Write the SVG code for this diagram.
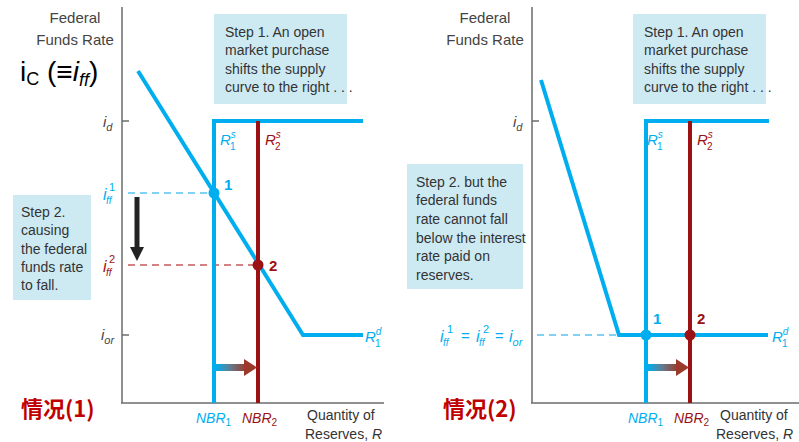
<svg xmlns="http://www.w3.org/2000/svg" width="799" height="442" viewBox="0 0 799 442">
<defs>
<linearGradient id="gArr" x1="0" y1="0" x2="1" y2="0">
<stop offset="0" stop-color="#00aeef"/>
<stop offset="0.45" stop-color="#5f7f93"/>
<stop offset="1" stop-color="#9b3a2a"/>
</linearGradient>
</defs>
<style>
text{font-family:"Liberation Sans",Arial,sans-serif;}
.ax{stroke:#6b6b6b;stroke-width:1.5;fill:none}
.blue{stroke:#00aeef;stroke-width:4;fill:none}
.red{stroke:#9b1114;stroke-width:4;fill:none}
.dashb{stroke:#58c4ee;stroke-width:1.5;stroke-dasharray:7,5;fill:none}
.dashr{stroke:#c45a5a;stroke-width:1.5;stroke-dasharray:7,5;fill:none}
.box{fill:#cdeaf3}
.t{font-size:14px;fill:#333}
.lbl{font-size:15px;fill:#444}
.it{font-style:italic}
.cb{fill:#00aeef}
.cr{fill:#9b1114}
.num{font-size:15px;font-weight:bold}
.case{font-size:22px;font-weight:bold;fill:#c00000;font-family:"Noto Sans CJK SC","Liberation Sans",sans-serif}
</style>

<!-- LEFT PANEL -->
<g id="left-axes">
<line class="ax" x1="122" y1="7" x2="122" y2="403"/>
<line class="ax" x1="121" y1="403" x2="384" y2="403"/>
<line class="ax" x1="122" y1="121" x2="129" y2="121"/>
<line class="ax" x1="122" y1="335" x2="129" y2="335"/>
<text class="lbl" text-anchor="middle" x="75" y="23">Federal</text>
<text class="lbl" text-anchor="middle" x="75" y="45">Funds Rate</text>
<text x="20" y="81" font-size="28" fill="#000" font-family="Calibri,'Liberation Sans',sans-serif">i<tspan font-size="18" dy="4">C</tspan><tspan dy="-4"> (≡</tspan><tspan font-style="italic">i</tspan><tspan font-style="italic" font-size="18" dy="5">ff</tspan><tspan dy="-5">)</tspan></text>
<text class="lbl it" x="103" y="127" fill="#444">i<tspan font-size="11" dy="4">d</tspan></text>
<text class="lbl it" x="101" y="340" fill="#444">i<tspan font-size="11" dy="4">or</tspan></text>
<text x="307" y="420" font-size="14" fill="#333">Quantity of</text>
<text x="305" y="439" font-size="14" fill="#333">Reserves, <tspan font-style="italic">R</tspan></text>
</g>
<g id="left-step1">
<rect class="box" x="214" y="14" width="133" height="90"/>
<text class="t" x="225" y="37">Step 1. An open</text>
<text class="t" x="225" y="55">market purchase</text>
<text class="t" x="225" y="74">shifts the supply</text>
<text class="t" x="225" y="92">curve to the right . . .</text>
</g>
<g id="left-step2">
<rect class="box" x="13" y="195" width="78" height="105"/>
<text class="t" x="21" y="217">Step 2.</text>
<text class="t" x="21" y="235">causing</text>
<text class="t" x="21" y="254">the federal</text>
<text class="t" x="21" y="272">funds rate</text>
<text class="t" x="21" y="290">to fall.</text>
</g>
<g id="left-connectors">
<line class="dashb" x1="128" y1="193" x2="212" y2="193"/>
<line class="dashr" x1="128" y1="265" x2="256" y2="265"/>
<polyline class="blue" points="138,71 303,335 363,335"/>
<polyline class="blue" points="214,403 214,121 363,121"/>
<line class="red" x1="258" y1="121" x2="258" y2="403"/>
<line x1="137" y1="197" x2="137" y2="248" stroke="#222" stroke-width="5"/>
<polygon points="130,247 144,247 137,261" fill="#222"/>
<rect x="216" y="364" width="30" height="7" fill="url(#gArr)"/>
<polygon points="244,359 257,367.5 244,376" fill="#9b3a2a"/>
</g>
<g id="left-labels">
<text class="it cb" x="103" y="200" font-size="16">i</text>
<text class="it cb" x="106" y="204" font-size="10">ff</text>
<text class="cb" x="109" y="191" font-size="11">1</text>
<text class="it cr" x="103" y="272" font-size="16">i</text>
<text class="it cr" x="106" y="276" font-size="10">ff</text>
<text class="cr" x="109" y="263" font-size="11">2</text>
<text class="it cb" x="220" y="145" font-size="15">R<tspan font-size="10" dy="-7">s</tspan></text>
<text class="cb" x="230" y="150" font-size="10">1</text>
<text class="it cr" x="265" y="145" font-size="15">R<tspan font-size="10" dy="-7">s</tspan></text>
<text class="cr" x="275" y="150" font-size="10">2</text>
<text class="it cb" x="365" y="342" font-size="15">R<tspan font-size="10" dy="-7">d</tspan></text>
<text class="cb" x="375" y="347" font-size="10">1</text>
<text class="it cb" x="196" y="423" font-size="14">NBR<tspan font-style="normal" font-size="10" dy="3">1</tspan></text>
<text class="it cr" x="242" y="423" font-size="14">NBR<tspan font-style="normal" font-size="10" dy="3">2</tspan></text>
</g>
<g id="left-point1">
<circle class="cb" cx="214" cy="193" r="5.5"/>
<text class="num cb" x="224" y="190">1</text>
</g>
<g id="left-point2">
<circle class="cr" cx="258" cy="265" r="5.5"/>
<text class="num cr" x="269" y="271">2</text>
</g>
<text class="case" x="21" y="417">情况(1)</text>

<!-- RIGHT PANEL -->
<g id="right-axes">
<line class="ax" x1="532" y1="7" x2="532" y2="403"/>
<line class="ax" x1="531" y1="403" x2="799" y2="403"/>
<line class="ax" x1="532" y1="121" x2="539" y2="121"/>
<text class="lbl" text-anchor="middle" x="485" y="23">Federal</text>
<text class="lbl" text-anchor="middle" x="485" y="45">Funds Rate</text>
<text class="lbl it" x="513" y="127" fill="#444">i<tspan font-size="11" dy="4">d</tspan></text>
<text x="720" y="420" font-size="14" fill="#333">Quantity of</text>
<text x="716" y="439" font-size="14" fill="#333">Reserves, <tspan font-style="italic">R</tspan></text>
</g>
<g id="right-step1">
<rect class="box" x="633" y="14" width="133" height="90"/>
<text class="t" x="644" y="37">Step 1. An open</text>
<text class="t" x="644" y="55">market purchase</text>
<text class="t" x="644" y="74">shifts the supply</text>
<text class="t" x="644" y="92">curve to the right . . .</text>
</g>
<g id="right-step2">
<rect class="box" x="407" y="164" width="116" height="125"/>
<text class="t" x="416" y="187">Step 2. but the</text>
<text class="t" x="416" y="205">federal funds</text>
<text class="t" x="416" y="224">rate cannot fall</text>
<text class="t" x="416" y="243">below the interest</text>
<text class="t" x="416" y="261">rate paid on</text>
<text class="t" x="416" y="280">reserves.</text>
</g>
<g id="right-connectors">
<line class="dashb" x1="537" y1="335" x2="619" y2="335"/>
<polyline class="blue" points="541,80 619,335 768,335"/>
<polyline class="blue" points="646,403 646,121 769,121"/>
<line class="red" x1="690" y1="121" x2="690" y2="403"/>
<rect x="648" y="364" width="30" height="7" fill="url(#gArr)"/>
<polygon points="676,359 689,367.5 676,376" fill="#9b3a2a"/>
</g>
<g id="right-labels">
<text class="it cb" x="440" y="342" font-size="16">i</text>
<text class="it cb" x="443" y="346" font-size="10">ff</text>
<text class="cb" x="447" y="333" font-size="11">1</text>
<text class="cb" x="461" y="341" font-size="15">=</text>
<text class="it cb" x="476" y="342" font-size="16">i</text>
<text class="it cb" x="479" y="346" font-size="10">ff</text>
<text class="cb" x="483" y="333" font-size="11">2</text>
<text class="cb" x="495" y="341" font-size="15">=</text>
<text class="it cb" x="509" y="342" font-size="16">i<tspan font-size="11" dy="4">or</tspan></text>
<text class="it cb" x="647" y="145" font-size="15">R<tspan font-size="10" dy="-7">s</tspan></text>
<text class="cb" x="657" y="150" font-size="10">1</text>
<text class="it cr" x="697" y="145" font-size="15">R<tspan font-size="10" dy="-7">s</tspan></text>
<text class="cr" x="707" y="150" font-size="10">2</text>
<text class="it cb" x="772" y="342" font-size="15">R<tspan font-size="10" dy="-7">d</tspan></text>
<text class="cb" x="782" y="347" font-size="10">1</text>
<text class="it cb" x="628" y="423" font-size="14">NBR<tspan font-style="normal" font-size="10" dy="3">1</tspan></text>
<text class="it cr" x="674" y="423" font-size="14">NBR<tspan font-style="normal" font-size="10" dy="3">2</tspan></text>
</g>
<g id="right-point1">
<circle class="cb" cx="646" cy="335" r="5.5"/>
<text class="num cb" x="653" y="324">1</text>
</g>
<g id="right-point2">
<circle class="cr" cx="690" cy="335" r="5.5"/>
<text class="num cr" x="697" y="324">2</text>
</g>
<text class="case" x="443" y="417">情况(2)</text>
</svg>
